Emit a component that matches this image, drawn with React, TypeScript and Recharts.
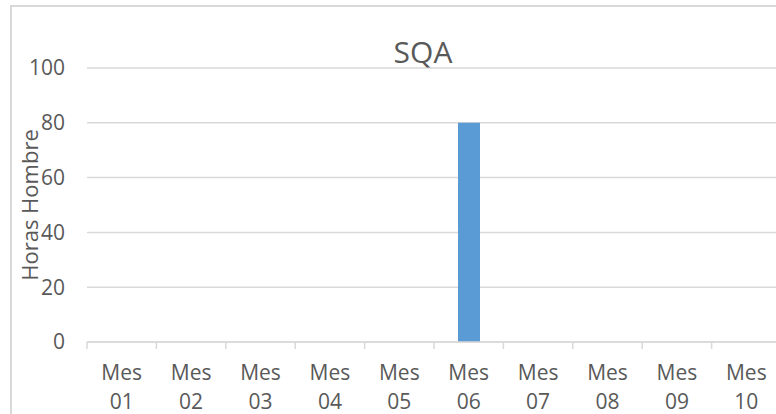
import React from 'react';
import { BarChart, Bar, XAxis, YAxis, CartesianGrid } from 'recharts';

const months = ['01', '02', '03', '04', '05', '06', '07', '08', '09', '10'];
const horas = [0, 0, 0, 0, 0, 80, 0, 0, 0, 0];
const yTicks = [0, 20, 40, 60, 80, 100];
const title = 'SQA';
const yLabel = 'Horas Hombre';
const catPrefix = 'Mes';

const data = months.map((m, i) => ({ mes: m, horas: horas[i] }));

const CHART_W = 800;
const CHART_H = 414;
const MARGIN = { top: 68, right: 19, bottom: 0, left: 0 };
const Y_W = 87;
const X_H = 72;
const PLOT_W = CHART_W - MARGIN.left - MARGIN.right - Y_W;
const BAND = PLOT_W / months.length;

const FONT = '"Open Sans", sans-serif';
const TEXT = '#595959';
const GRID = '#d9d9d9';

const XTick = (props: any) => {
  const { x, y, payload, index } = props;
  const left = x - BAND / 2;
  const right = x + BAND / 2;
  return (
    <g>
      <line x1={left} y1={y} x2={left} y2={y + 7} stroke={GRID} strokeWidth={1.5} />
      {index === months.length - 1 && (
        <line x1={right} y1={y} x2={right} y2={y + 7} stroke={GRID} strokeWidth={1.5} />
      )}
      <text textAnchor="middle" fill={TEXT} fontFamily={FONT} fontSize={21}>
        <tspan x={x} y={y + 38}>{catPrefix}</tspan>
        <tspan x={x} y={y + 67}>{payload.value}</tspan>
      </text>
    </g>
  );
};

const YLabel = (props: any) => {
  const vb = props.viewBox || { x: 0, y: 0, width: 0, height: 0 };
  const cx = vb.x + 38;
  const cy = vb.y + vb.height / 2;
  return (
    <text
      x={cx}
      y={cy}
      transform={`rotate(-90 ${cx} ${cy})`}
      textAnchor="middle"
      fill={TEXT}
      fontFamily={FONT}
      fontSize={22}
    >
      {yLabel}
    </text>
  );
};

export default function App() {
  return (
    <div
      style={{
        position: 'absolute',
        left: 0,
        top: 0,
        width: 776,
        height: 414,
        overflow: 'hidden',
        background: '#ffffff',
      }}
    >
      <div
        style={{
          position: 'absolute',
          left: 10,
          top: 5,
          width: 900,
          height: 500,
          border: `2px solid ${GRID}`,
          boxSizing: 'border-box',
        }}
      />
      <div style={{ position: 'absolute', left: 0, top: 0 }}>
        <BarChart width={CHART_W} height={CHART_H} data={data} margin={MARGIN}>
          <CartesianGrid vertical={false} stroke={GRID} strokeWidth={1.5} />
          <XAxis
            dataKey="mes"
            height={X_H}
            axisLine={{ stroke: GRID, strokeWidth: 1.5 }}
            tickLine={false}
            tickSize={0}
            tickMargin={0}
            interval={0}
            tick={<XTick />}
          />
          <YAxis
            width={Y_W}
            domain={[0, 100]}
            ticks={yTicks}
            axisLine={false}
            tickLine={false}
            tickSize={0}
            tickMargin={22}
            tick={{ fill: TEXT, fontFamily: FONT, fontSize: 21 }}
            label={<YLabel />}
          />
          <Bar dataKey="horas" fill="#5B9BD5" barSize={22} isAnimationActive={false} />
        </BarChart>
      </div>
      <svg
        width={776}
        height={414}
        style={{ position: 'absolute', left: 0, top: 0, pointerEvents: 'none' }}
      >
        <text x={423} y={63} textAnchor="middle" fill={TEXT} fontFamily={FONT} fontSize={30}>
          {title}
        </text>
      </svg>
    </div>
  );
}
